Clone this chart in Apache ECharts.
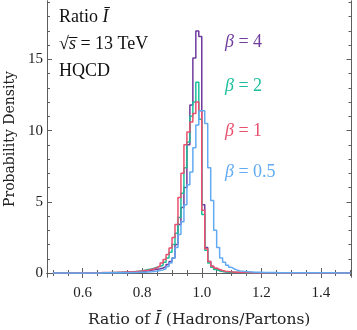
<!DOCTYPE html>
<html>
<head>
<meta charset="utf-8">
<script src="https://cdn.jsdelivr.net/npm/echarts@6/dist/echarts.min.js"></script>
<style>
  html, body { margin: 0; padding: 0; background: #fff; }
  #chart { width: 357px; height: 330px; }
</style>
</head>
<body>
<div id="chart"></div>
<script>
// histogram bins: left edges 0.50 .. 1.49, width 0.01
const binStart = 0.5;
const binWidth = 0.01;

const beta4 = [
  0, 0, 0, 0, 0, 0, 0, 0, 0, 0,
  0, 0, 0, 0, 0.01, 0.01, 0.01, 0.01, 0.01, 0.01,
  0.02, 0.02, 0.03, 0.03, 0.04, 0.05, 0.06, 0.07, 0.09, 0.11,
  0.13, 0.16, 0.19, 0.22, 0.26, 0.3, 0.35, 0.45, 0.6, 0.8,
  1.05, 2.0, 3.4, 4.6, 6.0, 9.0, 11.8, 15.1, 17.0, 16.6,
  4.8, 1.8, 0.8, 0.45, 0.28, 0.18, 0.12, 0.08, 0.06, 0.05,
  0.04, 0.03, 0.03, 0.02, 0.02, 0.02, 0.01, 0.01, 0.01, 0.01,
  0.01, 0.01, 0.01, 0, 0, 0, 0, 0, 0, 0,
  0, 0, 0, 0, 0, 0, 0, 0, 0, 0,
  0, 0, 0, 0, 0, 0, 0, 0, 0, 0
];
const beta2 = [
  0, 0, 0, 0, 0, 0, 0, 0, 0.01, 0.01,
  0.01, 0.01, 0.01, 0.01, 0.01, 0.02, 0.02, 0.02, 0.02, 0.03,
  0.03, 0.04, 0.04, 0.05, 0.06, 0.07, 0.09, 0.11, 0.13, 0.16,
  0.2, 0.24, 0.28, 0.33, 0.4, 0.47, 0.55, 0.75, 1.05, 1.45,
  2.0, 2.8, 3.9, 5.6, 7.4, 9.2, 11.0, 12.0, 13.4, 10.8,
  4.1, 1.6, 0.7, 0.4, 0.25, 0.16, 0.11, 0.08, 0.06, 0.05,
  0.04, 0.03, 0.03, 0.02, 0.02, 0.02, 0.01, 0.01, 0.01, 0.01,
  0.01, 0.01, 0.01, 0.01, 0, 0, 0, 0, 0, 0,
  0, 0, 0, 0, 0, 0, 0, 0, 0, 0,
  0, 0, 0, 0, 0, 0, 0, 0, 0, 0
];
const beta1 = [
  0, 0, 0, 0, 0, 0, 0.01, 0.01, 0.01, 0.01,
  0.01, 0.01, 0.02, 0.02, 0.02, 0.02, 0.03, 0.03, 0.03, 0.04,
  0.04, 0.05, 0.05, 0.06, 0.07, 0.08, 0.09, 0.1, 0.12, 0.14,
  0.17, 0.2, 0.25, 0.3, 0.38, 0.5, 0.7, 0.95, 1.3, 1.75,
  2.5, 3.4, 5.3, 7.0, 9.0, 9.9, 10.6, 11.2, 12.0, 11.4,
  4.4, 1.7, 0.8, 0.5, 0.35, 0.25, 0.18, 0.13, 0.1, 0.08,
  0.06, 0.05, 0.04, 0.04, 0.03, 0.03, 0.02, 0.02, 0.02, 0.02,
  0.01, 0.01, 0.01, 0.01, 0.01, 0.01, 0, 0, 0, 0,
  0, 0, 0, 0, 0, 0, 0, 0, 0, 0,
  0, 0, 0, 0, 0, 0, 0, 0, 0, 0
];
const beta05 = [
  0, 0, 0, 0, 0, 0, 0, 0, 0, 0,
  0, 0, 0, 0, 0, 0, 0.01, 0.01, 0.01, 0.01,
  0.01, 0.01, 0.02, 0.02, 0.02, 0.03, 0.03, 0.04, 0.05, 0.05,
  0.06, 0.07, 0.08, 0.1, 0.13, 0.17, 0.22, 0.3, 0.45, 0.7,
  1.05, 1.8, 2.7, 3.6, 4.8, 6.2, 7.1, 8.8, 10.4, 11.4,
  11.4, 10.5, 7.4, 5.1, 3.0, 1.8, 1.05, 0.75, 0.55, 0.4,
  0.28, 0.2, 0.15, 0.12, 0.1, 0.08, 0.07, 0.06, 0.05, 0.05,
  0.04, 0.04, 0.03, 0.03, 0.03, 0.02, 0.02, 0.02, 0.02, 0.02,
  0.01, 0.01, 0.01, 0.01, 0.01, 0.01, 0.01, 0.01, 0.01, 0.01,
  0.01, 0.01, 0.01, 0.01, 0.01, 0, 0, 0, 0, 0
];

const xMajor = [0.6, 0.8, 1.0, 1.2, 1.4];
const xMinor = [0.5, 0.55, 0.65, 0.7, 0.75, 0.85, 0.9, 0.95, 1.05, 1.1, 1.15, 1.25, 1.3, 1.35, 1.45, 1.5];
const yMajor = [0, 5, 10, 15];
const yMinor = [1, 2, 3, 4, 6, 7, 8, 9, 11, 12, 13, 14, 16, 17, 18, 19];

const seriesDefs = [
  { name: 'β = 4', values: beta4, color: '#6f3c9e', labelTop: 33 },
  { name: 'β = 2', values: beta2, color: '#1cbf9b', labelTop: 77 },
  { name: 'β = 1', values: beta1, color: '#e8506e', labelTop: 122 },
  { name: 'β = 0.5', values: beta05, color: '#62aaf2', labelTop: 163 },
];

const serif = '"Liberation Serif", "DejaVu Serif", serif';
const wideSerif = '"DejaVu Serif", serif';
const frameColor = '#5e5e5e';
const textColor = '#222';

function toSteps(values) {
  const pts = values.map((v, i) => [+(binStart + i * binWidth).toFixed(2), v]);
  pts.push([+(binStart + values.length * binWidth).toFixed(2), values[values.length - 1]]);
  return pts;
}

function xAxisDef(position, ticks, len, withLabels) {
  return {
    type: 'value',
    position,
    min: 0.48,
    max: 1.503,
    axisLine: { show: true, lineStyle: { color: frameColor, width: 1 } },
    axisTick: { inside: true, length: len, customValues: ticks, lineStyle: { color: frameColor } },
    axisLabel: withLabels
      ? { customValues: xMajor, formatter: (v) => v.toFixed(1), color: textColor, fontFamily: serif, fontSize: 15, margin: 9 }
      : { show: false },
    splitLine: { show: false },
  };
}

function yAxisDef(position, ticks, len, withLabels) {
  return {
    type: 'value',
    position,
    min: -0.28,
    max: 19.1,
    axisLine: { show: true, lineStyle: { color: frameColor, width: 1 } },
    axisTick: { inside: true, length: len, customValues: ticks, lineStyle: { color: frameColor } },
    axisLabel: withLabels
      ? { customValues: yMajor, color: textColor, fontFamily: serif, fontSize: 15, margin: 4 }
      : { show: false },
    splitLine: { show: false },
  };
}

const xAxes = [
  xAxisDef('bottom', xMajor, 5, true),
  xAxisDef('bottom', xMinor, 3, false),
  xAxisDef('top', xMajor, 5, false),
  xAxisDef('top', xMinor, 3, false),
];
Object.assign(xAxes[0], {
  name: 'Ratio of {i|Ī} (Hadrons/Partons)',
  nameLocation: 'middle',
  nameGap: 35,
  nameTextStyle: {
    color: textColor, fontFamily: wideSerif, fontSize: 15.5,
    rich: { i: { fontStyle: 'italic', fontFamily: wideSerif, fontSize: 15.5, color: textColor } },
  },
});

const yAxes = [
  yAxisDef('left', yMajor, 5, true),
  yAxisDef('left', yMinor, 3, false),
  yAxisDef('right', yMajor, 5, false),
  yAxisDef('right', yMinor, 3, false),
];
Object.assign(yAxes[0], {
  name: 'Probability Density',
  nameLocation: 'middle',
  nameGap: 30,
  nameTextStyle: { color: textColor, fontFamily: wideSerif, fontSize: 14 },
});

const chart = echarts.init(document.getElementById('chart'), null, { renderer: 'canvas' });

const labelStyle = (color) => ({
  fontFamily: serif,
  fontSize: 18,
  fill: color,
  rich: {
    b: { fontFamily: serif, fontSize: 18, fontStyle: 'italic', color },
    t: { fontFamily: serif, fontSize: 18, color },
  },
});

chart.setOption({
  animation: false,
  grid: { left: 47, right: 5.5, top: 1, bottom: 53, outerBoundsMode: 'none' },
  xAxis: xAxes,
  yAxis: yAxes,
  series: seriesDefs.map((s) => ({
    name: s.name,
    type: 'line',
    step: 'end',
    data: toSteps(s.values),
    showSymbol: false,
    symbol: 'none',
    lineStyle: { color: s.color, width: 1.5 },
    xAxisIndex: 0,
    yAxisIndex: 0,
  })),
  graphic: [
    { type: 'text', left: 59, top: 8, style: {
      text: '{t|Ratio }{b|Ī}', ...labelStyle('#111') } },
    { type: 'text', left: 59, top: 35, style: {
      text: '{t|√}{b|s̅}{t| = 13 TeV}', ...labelStyle('#111') } },
    { type: 'text', left: 59, top: 62, style: {
      text: '{t|HQCD}', ...labelStyle('#111') } },
    ...seriesDefs.map((s) => ({
      type: 'text', left: 225, top: s.labelTop,
      style: { text: '{b|β}{t| = ' + s.name.split('= ')[1] + '}', ...labelStyle(s.color) },
    })),
  ],
});
</script>
</body>
</html>
